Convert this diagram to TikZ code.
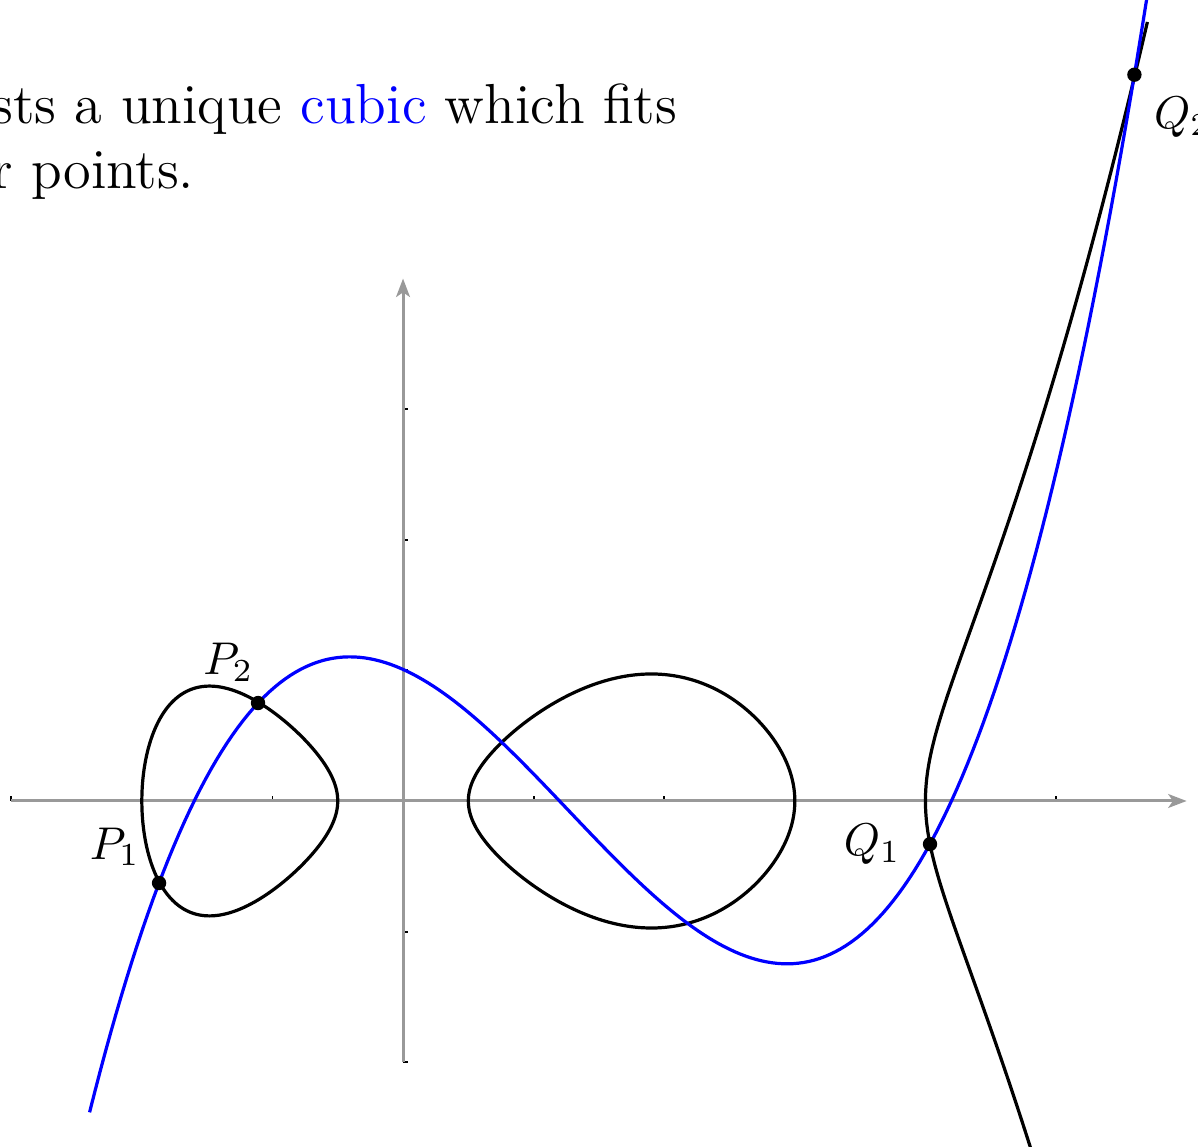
\documentclass[tikz,border=0pt]{standalone}
\usepackage{amsmath,amssymb}
\usepackage{xcolor}
\usepackage{tikz}
\usetikzlibrary{positioning, arrows.meta}

\begin{document}
\begin{tikzpicture}[
    every node/.style={font=\normalsize},
    axis/.style={draw=black!40, line width=0.65pt, -{Stealth[length=4pt, width=3pt, inset=1pt]}},
    tick/.style={draw=black, line width=0.4pt},
    curve/.style={draw=black, line width=0.7pt},
    cubic/.style={draw=blue, line width=0.7pt},
    dot/.style={circle, fill=black, inner sep=0pt, minimum size=0.11cm},
    lbl/.style={inner sep=1pt},
    txt/.style={inner sep=0pt, font=\fontsize{12.3}{14.2}\selectfont},
]
    \clip (-3.086,-2.649) rectangle (6.087,6.133);

    \node[txt, anchor=base east] (line1) at (2.106,5.19) {There exists a unique \textcolor{blue}{cubic} which fits};
    \node[txt, anchor=base west] (line2) at ([xshift=0.09cm, yshift=-0.5cm]line1.base west) {these four points.};

    % ticks, then axes on top
    \foreach \x in {-3,-2,-1,1,2,3,4,5}
        \draw[tick] (\x,0) -- (\x,0.035);
    \foreach \y in {-2,-1,1,2,3}
        \draw[tick] (0,\y) -- (0.035,\y);
    \draw[axis] (-3,0) -- (6,0);
    \draw[axis] (0,-2) -- (0,4);

    % y^2 = (x+2)(x+1/2)(x-1/2)(x-3)(x-4)/32
    \draw[curve] plot[domain=0:360, samples=241, variable=\t]
        ({-1.25-0.75*cos(\t)}, {0.75*sin(\t)*sqrt((1.75+0.75*cos(\t))*(4.25+0.75*cos(\t))*(5.25+0.75*cos(\t))/32)}) -- cycle;
    \draw[curve] plot[domain=0:360, samples=241, variable=\t]
        ({1.75-1.25*cos(\t)}, {1.25*sin(\t)*sqrt((3.75-1.25*cos(\t))*(2.25-1.25*cos(\t))*(2.25+1.25*cos(\t))/32)}) -- cycle;
    \draw[curve] plot[domain=-1.3038:1.3038, samples=161, variable=\s]
        ({4+(\s)*(\s)}, {(\s)*sqrt((6+(\s)*(\s))*(4.5+(\s)*(\s))*(3.5+(\s)*(\s))*(1+(\s)*(\s))/32)});

    \draw[cubic] plot[domain=-2.4:5.7, samples=201, variable=\x]
        (\x, {((0.12528*\x - 0.47587)*\x - 0.45053)*\x + 1.00754});

    \node[dot] (P1) at (-1.868,-0.628) {};
    \node[dot] (P2) at (-1.110,0.750) {};
    \node[dot] (Q1) at (4.035,-0.330) {};
    \node[dot] (Q2) at (5.600,5.561) {};

    \node[lbl, above left=0.045cm and 0.06cm of P1] (P1lbl) {$P_1$};
    \node[lbl, above left=0.08cm and -0.05cm of P2] (P2lbl) {$P_2$};
    \node[lbl, left=0.12cm of Q1] (Q1lbl) {$Q_1$};
    \node[lbl, below right=0.085cm and 0.065cm of Q2] (Q2lbl) {$Q_2$};
\end{tikzpicture}
\end{document}
